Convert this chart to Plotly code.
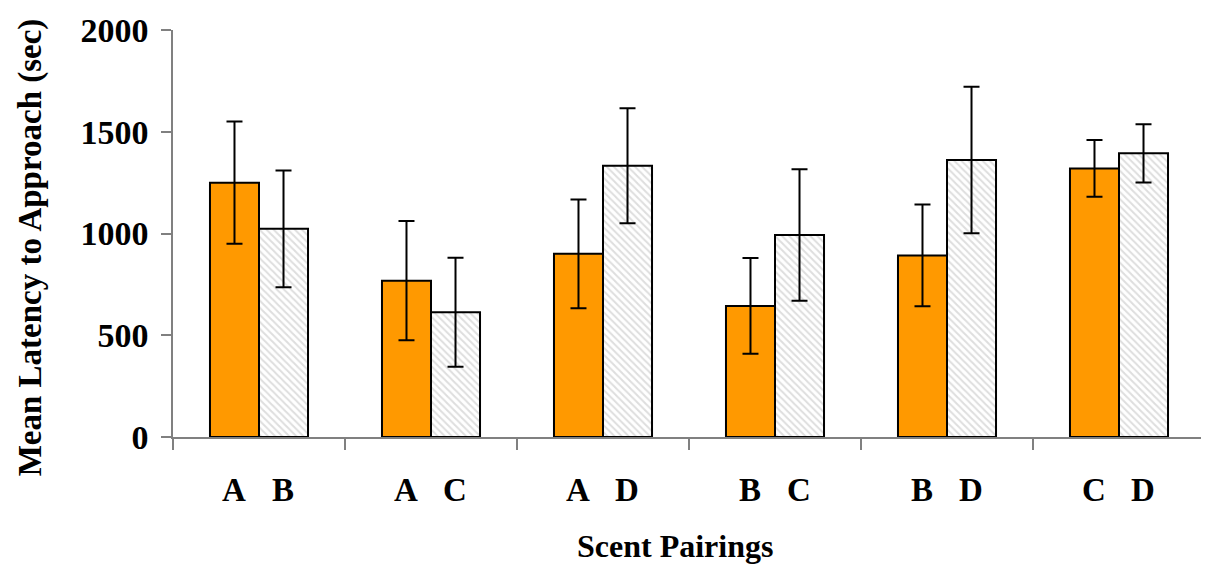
import plotly.graph_objects as go

pairs = ["A-B", "A-C", "A-D", "B-C", "B-D", "C-D"]
first_labels = ["A", "A", "A", "B", "B", "C"]
second_labels = ["B", "C", "D", "C", "D", "D"]
first_means = [1250, 768, 900, 644, 892, 1320]
first_err = [300, 293, 267, 235, 250, 140]
second_means = [1023, 613, 1333, 993, 1361, 1394]
second_err = [287, 268, 283, 323, 360, 143]
y_ticks = [0, 500, 1000, 1500, 2000]
x_title = "Scent Pairings"
y_title = "Mean Latency to Approach (sec)"

FONT = "Liberation Serif"

fig = go.Figure()
fig.add_trace(go.Bar(
    x=pairs, y=first_means, name="First scent",
    marker=dict(color="#FF9900", line=dict(color="black", width=2)),
    error_y=dict(type="data", array=first_err, visible=True, color="black", thickness=2, width=8),
))
fig.add_trace(go.Bar(
    x=pairs, y=second_means, name="Second scent",
    marker=dict(color="white", line=dict(color="black", width=2),
                pattern=dict(shape="\\", fgcolor="#bdbdbd", bgcolor="white", size=5, solidity=0.4)),
    error_y=dict(type="data", array=second_err, visible=True, color="black", thickness=2, width=8),
))

for i, p in enumerate(pairs):
    fig.add_annotation(x=p, y=-0.131, xref="x", yref="paper", text=f"<b>{first_labels[i]}</b>", showarrow=False,
                       xshift=-25, font=dict(family=FONT, size=33, color="black"), yanchor="middle")
    fig.add_annotation(x=p, y=-0.131, xref="x", yref="paper", text=f"<b>{second_labels[i]}</b>", showarrow=False,
                       xshift=24, font=dict(family=FONT, size=33, color="black"), yanchor="middle")

fig.add_annotation(x=0.486, y=-0.269, xref="paper", yref="paper", text=f"<b>{x_title}</b>", showarrow=False,
                   font=dict(family=FONT, size=32, color="black"), yanchor="middle")
fig.add_annotation(x=-0.1386, y=0.466, xref="paper", yref="paper", text=f"<b>{y_title}</b>", showarrow=False,
                   textangle=-90, font=dict(family=FONT, size=33, color="black"),
                   xanchor="center", yanchor="middle")

fig.update_layout(
    width=1209, height=569,
    margin=dict(l=165, r=12, t=22, b=140, autoexpand=False),
    plot_bgcolor="white", paper_bgcolor="white",
    barmode="group", bargap=0.43, bargroupgap=0,
    showlegend=False,
    font=dict(family=FONT, size=33, color="black"),
)
fig.update_xaxes(
    type="category", showticklabels=False, tickson="boundaries", ticks="outside", ticklen=11,
    tickcolor="#808080", tickwidth=1.5, showline=True, linecolor="#808080", linewidth=1.5, showgrid=False,
    automargin=False,
)
fig.update_yaxes(
    range=[0, 2000], tickvals=y_ticks, ticktext=[f"<b>{v}</b>" for v in y_ticks], ticks="outside", ticklen=10,
    ticklabelstandoff=6, automargin=False,
    tickcolor="#808080", tickwidth=1.5, showline=True, linecolor="#808080", linewidth=1.5, showgrid=False,
    zeroline=False, tickfont=dict(family=FONT, size=34),
)

fig.write_html("out.html")
